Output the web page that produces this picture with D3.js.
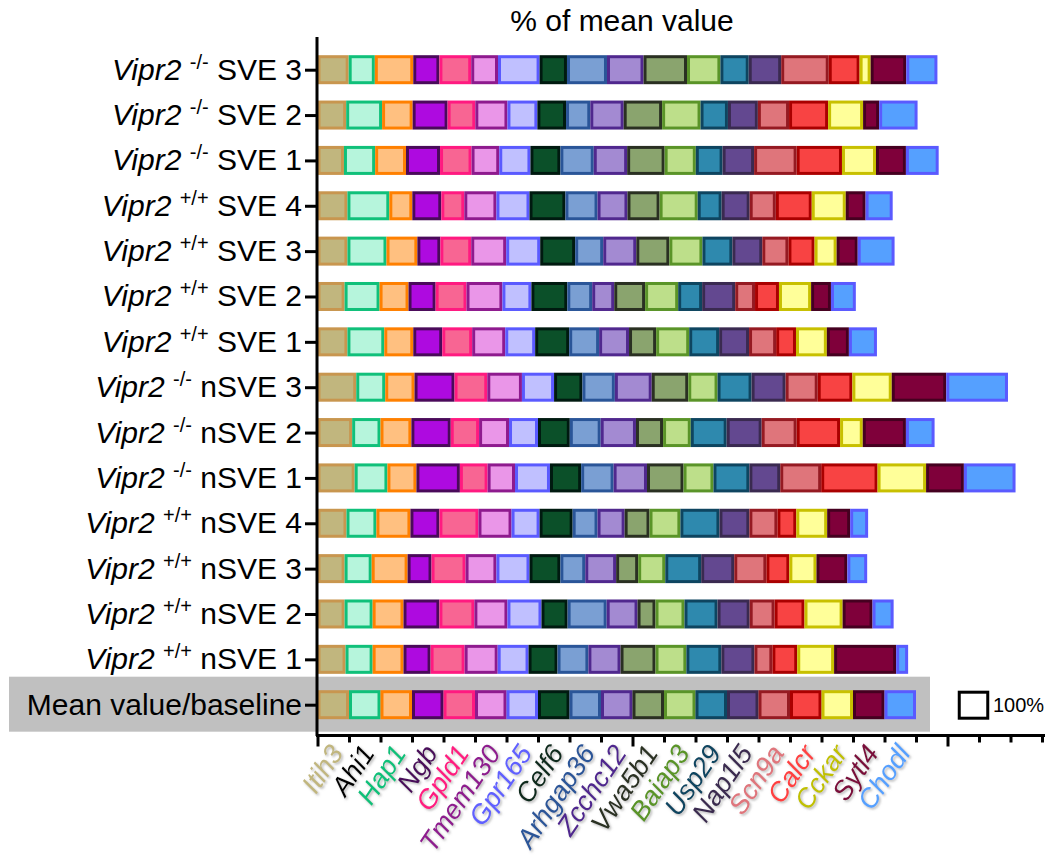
<!DOCTYPE html>
<html>
<head>
<meta charset="utf-8">
<script src="https://cdn.jsdelivr.net/npm/d3@7"></script>
<style>
  html, body { margin: 0; padding: 0; background: #ffffff; }
  svg { display: block; font-family: "Liberation Sans", Arial, sans-serif; }
</style>
</head>
<body>
<svg id="chart" width="1047" height="856"></svg>
<script>
// Marker genes, in stacking order
const genes = ["Itih3","Ahi1","Hap1","Ngb","Gpld1","Tmem130","Gpr165","Celf6","Arhgap36",
  "Zcchc12","Vwa5b1","Baiap3","Usp29","Nap1l5","Scn9a","Calcr","Cckar","Sytl4","Chodl"];
const fillColors = ["#c1b67e","#b6f5dc","#ffc080","#ae0ae0","#f86593","#ea96e8","#c0c0ff","#0b5029",
  "#7a9fd3","#a38ad2","#8aa46e","#bddf8a","#2e89ae","#634890","#df757b","#f84343","#ffff99","#7f003a","#55a0ff"];
const strokeColors = ["#c8964f","#10c07a","#ff8000","#4a0a5a","#ff1a80","#8e1a8e","#5a5aff","#001a10",
  "#2a5598","#50288e","#2a3022","#5a9428","#0e4560","#3a2a50","#951a22","#aa0000","#c8c000","#450020","#5a5aff"];
const labelColors = ["#c1b67e","#000000","#10c07a","#4a0a5a","#ff1a80","#8e1a8e","#6060ff","#0a2a1a",
  "#2a5598","#50288e","#2a3022","#5a9428","#0e4560","#3a2a50","#df757b","#ff4040","#c0c000","#7a0a3a","#55a0ff"];

// Row labels (top to bottom)
const genotypes = ["-/-","-/-","-/-","+/+","+/+","+/+","+/+","-/-","-/-","-/-","+/+","+/+","+/+","+/+",null];
const groups = ["SVE 3","SVE 2","SVE 1","SVE 4","SVE 3","SVE 2","SVE 1",
  "nSVE 3","nSVE 2","nSVE 1","nSVE 4","nSVE 3","nSVE 2","nSVE 1","Mean value/baseline"];

// Expression as % of mean value, one array per sample (gene order as above)
const koSVE3  = [99, 83,122, 83,101, 85,132, 87,127,116,138,106, 90,103,151, 98, 35,113, 99];
const koSVE2  = [91,114, 97,111, 88,102, 95, 91, 77,106,122,122, 87, 95, 99,124,111, 51,122];
const koSVE1  = [84, 99, 98,108,100, 88, 99, 95,106,106,119, 99, 85,100,135,144,108, 95,104];
const wtSVE4  = [95,133, 73, 92, 73,102,105,114,102, 95,102,121, 76, 89, 83,114,108, 63, 86];
const wtSVE3  = [95,124, 98, 73, 98,111,108,111, 89,105,105,105, 95, 95, 83, 83, 70, 67,117];
const wtSVE2  = [86,111, 92, 86, 98,114, 92,114, 79, 70, 98,105, 76,105, 63, 76,102, 63, 79];
const wtSVE1  = [95,117, 92, 92, 95,105, 95,108, 95, 95, 86,105, 95, 95, 86, 63, 98, 70, 89];
const koNSVE3 = [123, 92, 93,127,104,110,102, 90,103,117,116, 93,108,108,102,110,125,173,196];
const koNSVE2 = [110, 90, 98,125, 90, 95, 92,101, 98,112, 86, 88,114,111,111,138, 72,137, 91];
const koNSVE1 = [118,104, 92,138, 88, 87,111, 99,103,106,116, 95,114, 98,130,179,154,120,164];
const wtNSVE4 = [92, 95,108, 92,124,105, 89,105, 79, 86, 79, 98,124, 95, 89, 60, 98, 73, 57];
const wtNSVE3 = [86, 86,114, 76,108, 98,105, 98, 79, 98, 70, 86,114,105,102, 73, 86, 98, 63];
const wtNSVE2 = [86, 89, 98,114,111,105,108, 83,124, 98, 57, 92,105,102, 79, 95,121, 95, 67];
const wtNSVE1 = [89, 86, 98, 86,108,105, 98, 92, 98,102,111, 98,111,105, 57, 79,117,197, 38];
const baseline = [100,100,100,100,100,100,100,100,100,100,100,100,100,100,100,100,100,100,100];

const samples = [koSVE3, koSVE2, koSVE1, wtSVE4, wtSVE3, wtSVE2, wtSVE1,
  koNSVE3, koNSVE2, koNSVE1, wtNSVE4, wtNSVE3, wtNSVE2, wtNSVE1, baseline];

// Axis ticks (percent)
const minorTicks = d3.range(0, 2301, 100);
const majorTicks = [0, 1000, 2000];
const scaleBarValue = 100;

const table = samples.map((vals, i) => {
  const row = { id: i };
  genes.forEach((g, j) => { row[g] = vals[j]; });
  return row;
});
const series = d3.stack().keys(genes)(table);

const svg = d3.select("#chart");
const x = d3.scaleLinear().domain([0, 2300]).range([317.5, 1042]);
const y = d3.scalePoint().domain(d3.range(samples.length)).range([69.7, 704.7]);
const barH = 26, sw = 3;

// Label filter: soft drop shadow under gene names
const defs = svg.append("defs");
const f = defs.append("filter").attr("id", "shadow").attr("x", "-20%").attr("y", "-20%")
  .attr("width", "140%").attr("height", "140%");
f.append("feDropShadow").attr("dx", 1.5).attr("dy", 1.5).attr("stdDeviation", 1)
  .attr("flood-color", "#777").attr("flood-opacity", 0.55);

// Grey band behind the baseline row
const lastY = y(samples.length - 1);
svg.append("rect").attr("x", 9).attr("y", lastY - 28).attr("width", 921).attr("height", 55)
  .attr("fill", "#c0c0c0");

// Stacked segments
svg.append("g").selectAll("g").data(series).join("g")
  .attr("fill", (d, i) => fillColors[i])
  .attr("stroke", (d, i) => strokeColors[i])
  .attr("stroke-width", sw)
  .selectAll("rect").data(d => d).join("rect")
  .attr("x", d => x(d[0]) + sw / 2)
  .attr("y", d => y(d.data.id) - barH / 2)
  .attr("width", d => Math.max(0, x(d[1]) - x(d[0]) - sw))
  .attr("height", barH);

// Y axis
const yAxis = svg.append("g").attr("transform", "translate(317,0)")
  .call(d3.axisLeft(y).tickSize(12).tickFormat(""));
yAxis.select(".domain").attr("d", "M0,37V736").attr("stroke", "#000").attr("stroke-width", 3);
yAxis.selectAll(".tick line").attr("stroke", "#000").attr("stroke-width", 3);

// X axis (minor + major ticks, no numbers)
const xAxis = svg.append("g").attr("transform", "translate(0,735.5)")
  .call(d3.axisBottom(x).tickValues(minorTicks).tickSize(7).tickSizeOuter(0).tickFormat(""));
xAxis.select(".domain").attr("stroke", "#000").attr("stroke-width", 3)
  .attr("d", `M${x(0) - 1.5},0H1045`);
xAxis.selectAll(".tick line").attr("stroke", "#000").attr("stroke-width", 3)
  .attr("y2", d => majorTicks.includes(d) ? 11 : 7);

// Row labels
const labels = svg.append("g").attr("font-size", 30).attr("text-anchor", "end").attr("fill", "#000");
groups.forEach((g, i) => {
  const t = labels.append("text").attr("x", 302).attr("y", y(i) + 10);
  if (genotypes[i]) {
    t.append("tspan").attr("font-style", "italic").text("Vipr2 ");
    t.append("tspan").attr("font-size", 20).attr("dy", -11).text(genotypes[i]);
    t.append("tspan").attr("dy", 11).text(" " + g);
  } else {
    t.text(g);
  }
});

// Title
svg.append("text").attr("x", 622).attr("y", 31).attr("text-anchor", "middle")
  .attr("font-size", 30).text("% of mean value");

// Gene labels under the axis
svg.append("g").attr("filter", "url(#shadow)").selectAll("text").data(genes).join("text")
  .attr("transform", (d, i) => `translate(${x(100 * i + 50) + 11},753) rotate(-56)`)
  .attr("text-anchor", "end").attr("font-size", 27)
  .attr("fill", (d, i) => labelColors[i])
  .attr("font-style", "italic")
  .text(d => d);

// 100% scale bar
svg.append("rect").attr("x", 973.5 - (x(scaleBarValue) - x(0)) / 2 + sw / 2).attr("y", lastY - barH / 2 + 0.5)
  .attr("width", x(scaleBarValue) - x(0) - sw).attr("height", barH)
  .attr("fill", "#fff").attr("stroke", "#000").attr("stroke-width", sw);
svg.append("text").attr("x", 993).attr("y", 712).attr("font-size", 20).text(scaleBarValue + "%");
</script>
</body>
</html>
